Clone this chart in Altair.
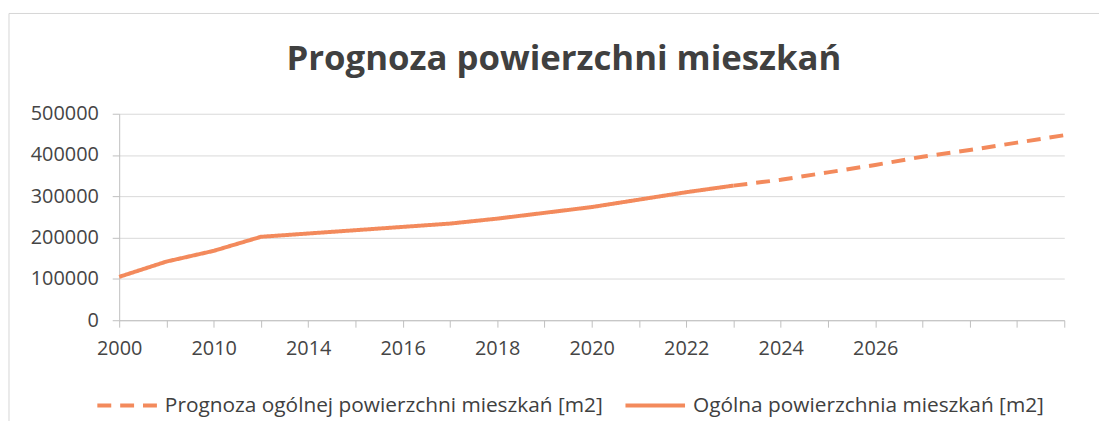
import altair as alt
import pandas as pd

# Category axis (Excel-style) and series values
categories = ["2000", "2005", "2010", "2012", "2014", "2015", "2016", "2017", "2018",
              "2019", "2020", "2021", "2022", "2023", "2024", "2025", "2026",
              "2027", "2028", "2029", "2030"]
shown_labels = ["2000", "2010", "2014", "2016", "2018", "2020", "2022", "2024", "2026"]

actual_cats = categories[:14]
actual_vals = [105000, 142000, 168000, 202000, 210000, 218000, 226000, 234000,
               246000, 260000, 274000, 292000, 310000, 326000]

forecast_cats = categories[13:]
forecast_vals = [326000, 340000, 358000, 376000, 396000, 412000, 430000, 448000]

series_forecast = "Prognoza ogólnej powierzchni mieszkań [m2]"
series_actual = "Ogólna powierzchnia mieszkań [m2]"

y_ticks = [0, 100000, 200000, 300000, 400000, 500000]

rows = [{"rok": c, "wartosc": v, "seria": series_forecast} for c, v in zip(forecast_cats, forecast_vals)]
rows += [{"rok": c, "wartosc": v, "seria": series_actual} for c, v in zip(actual_cats, actual_vals)]
df = pd.DataFrame(rows)

ORANGE = "#F38A5C"
FONT = "Open Sans"
label_expr = "indexof([" + ",".join("'%s'" % s for s in shown_labels) + "], datum.value) >= 0 ? datum.value : ''"

lines = alt.Chart(df).mark_line(strokeWidth=4).encode(
    x=alt.X("rok:O", sort=categories,
            scale=alt.Scale(type="point", padding=0, domain=categories),
            axis=alt.Axis(title=None, labelAngle=0, labelExpr=label_expr, labelOverlap=False,
                          tickSize=7, labelPadding=12, domainColor="#bfbfbf", tickColor="#bfbfbf",
                          labelFont=FONT, labelFontSize=20, labelColor="#454545", grid=False)),
    y=alt.Y("wartosc:Q", scale=alt.Scale(domain=[0, 500000]),
            axis=alt.Axis(title=None, values=y_ticks, format="d", tickSize=7, labelPadding=14,
                          domainColor="#bfbfbf", tickColor="#bfbfbf", gridColor="#d9d9d9",
                          labelFont=FONT, labelFontSize=20, labelColor="#454545")),
    color=alt.Color("seria:N", scale=alt.Scale(domain=[series_forecast, series_actual],
                                              range=[ORANGE, ORANGE]),
                    legend=alt.Legend(title=None)),
    strokeDash=alt.StrokeDash("seria:N", scale=alt.Scale(domain=[series_forecast, series_actual],
                                                        range=[[14, 9], [1, 0]]),
                              legend=alt.Legend(title=None)),
    order=alt.Order("seria:N", sort="descending"),
)

frame_df = pd.DataFrame({"k": [0]})
frame = alt.Chart(frame_df).mark_rect(fill=None, stroke="#d6d6d6", strokeWidth=1).encode(
    x=alt.value(-111), x2=alt.value(1100), y=alt.value(-101), y2=alt.value(400)
)

chart = alt.layer(frame, lines).properties(
    width=952,
    height=208,
    autosize=alt.AutoSizeParams(type="none"),
    padding={"left": 112, "top": 105, "right": 35, "bottom": 100},
    title=alt.Title("Prognoza powierzchni mieszkań", font=FONT, fontSize=35, fontWeight="bold",
                    color="#404040", anchor="middle", dx=-28, offset=-64),
).configure_view(stroke=None).configure_legend(
    orient="none", direction="horizontal", legendX=-24, legendY=262,
    symbolType="stroke", symbolSize=3600, symbolStrokeWidth=4,
    labelFont=FONT, labelFontSize=21, labelColor="#404040", labelOffset=6,
    columnPadding=14, labelLimit=600,
)

chart.save("out.html", embed_options={"renderer": "svg", "actions": False})
